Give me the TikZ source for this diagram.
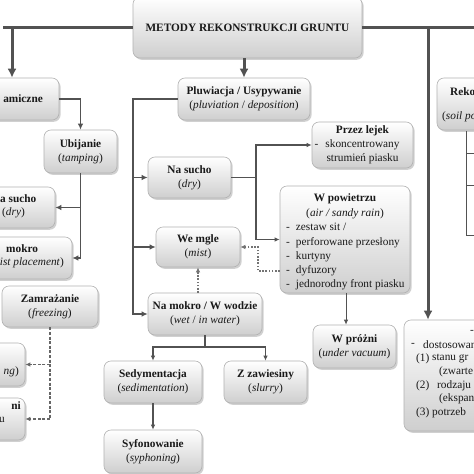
\documentclass[tikz,border=0pt]{standalone}
\usepackage{fontspec}
\setmainfont{Liberation Serif}
\newfontfamily\lsrfam{Liberation Serif}
\usetikzlibrary{shadows,arrows.meta}
\newcommand\fsz{\lsrfam\fontsize{11.3}{14.2}\selectfont}
\begin{document}
\begin{tikzpicture}[x=1pt,y=-1pt,
  box/.style={draw=black!30, line width=0.6pt, rounded corners=7pt,
    top color=white, bottom color=black!19,
    drop shadow={shadow xshift=1.6pt, shadow yshift=-1.8pt, opacity=0.3, fill=black!60},
    inner sep=2pt, align=center, font=\fsz, text=black!90},
  txt/.style={inner sep=0pt, font=\fsz, text=black!90},
  thickc/.style={line width=3pt, draw=black!68},
  midc/.style={line width=1.9pt, draw=black!68},
  thinc/.style={line width=1.3pt, draw=black!68},
  hairc/.style={line width=0.9pt, draw=black!68},
  dotc/.style={line width=1.6pt, draw=black!55, dash pattern=on 1.6pt off 1.6pt},
  dashc/.style={line width=1.4pt, draw=black!60, dash pattern=on 3pt off 1.6pt},
  tipL/.style={-{Latex[length=9pt,width=9pt]}},
  tipM/.style={-{Latex[length=6pt,width=5.5pt]}},
  tipS/.style={-{Latex[length=5pt,width=4.5pt]}}
]
\useasboundingbox (0,0) rectangle (474,474);
\clip (0,0) rectangle (474,474);
\fill[white] (0,0) rectangle (474,474);

% ---------- nodes ----------
\node[box, minimum width=229, minimum height=61] (T) at (247.5,27.5) {\textbf{METODY REKONSTRUKCJI GRUNTU}};

\node[box, minimum width=119, minimum height=42] (D) at (-0.5,99) {};
\node[txt, anchor=east] (Dt) at (43,99) {\textbf{amiczne}};

\node[box, minimum width=73, minimum height=43] (U) at (80.5,151.5) {\textbf{Ubijanie}\\(\textit{tamping})};

\node[box, minimum width=85, minimum height=41] (AS) at (12.5,207.5) {};
\node[txt, anchor=west] (ASa) at (0,198.5) {\textbf{a sucho}};
\node[txt] (ASb) at (13.5,212.5) {(\textit{dry})};

\node[box, minimum width=102, minimum height=42] (AM) at (21,258) {};
\node[txt, anchor=west] (AMa) at (6,248.5) {\textbf{mokro}};
\node[txt, anchor=east] (AMb) at (64,262.5) {\textit{ist placement})};

\node[box, minimum width=96, minimum height=41] (Z) at (50,306.5) {\textbf{Zamrażanie}\\(\textit{freezing})};

\node[box, minimum width=65, minimum height=43] (L1) at (-7.5,364.5) {};
\node[txt, anchor=east] (L1t) at (19,372) {\textit{ng})};

\node[box, minimum width=65, minimum height=42] (L2) at (-7.5,419) {};
\node[txt, anchor=east] (L2a) at (21,406) {\textbf{ni}};
\node[txt, anchor=east] (L2b) at (5,419.5) {u};

\node[box, minimum width=132, minimum height=42] (P) at (244,99) {\textbf{Pluwiacja / Usypywanie}\\(\textit{pluviation} / \textit{deposition})};

\node[box, minimum width=83, minimum height=41] (NS) at (189.5,177.5) {\textbf{Na sucho}\\(\textit{dry})};

\node[box, minimum width=101, minimum height=46] (PL) at (362.5,145) {\textbf{Przez lejek}\\\llap{-\hspace{7pt}}skoncentrowany\\strumień piasku};

\node[box, minimum width=130, minimum height=107] (WP) at (345,239.5) {};
\node[txt] (WPa) at (345,199) {\textbf{W powietrzu}};
\node[txt] (WPb) at (345,213.5) {(\textit{air / sandy rain})};
\node[txt, anchor=west] (WPc) at (286,256.5) {\begin{tabular}{@{}l@{\hspace{6pt}}l@{}}
-&zestaw sit /\\
-&perforowane przesłony\\
-&kurtyny\\
-&dyfuzory\\
-&jednorodny front piasku
\end{tabular}};

\node[box, minimum width=84, minimum height=40] (WM) at (198,247) {\textbf{We mgle}\\(\textit{mist})};

\node[box, minimum width=114, minimum height=42] (NM) at (205,314) {\textbf{Na mokro / W wodzie}\\(\textit{wet} / \textit{in water})};

\node[box, minimum width=98, minimum height=42] (SE) at (153,382) {\textbf{Sedymentacja}\\(\textit{sedimentation})};
\node[box, minimum width=83, minimum height=42] (ZZ) at (265.5,382) {\textbf{Z zawiesiny}\\(\textit{slurry})};
\node[box, minimum width=98, minimum height=43] (SY) at (153,451.5) {\textbf{Syfonowanie}\\(\textit{syphoning})};

\node[box, minimum width=83, minimum height=43] (WPr) at (354.5,346.5) {\textbf{W próżni}\\(\textit{under vacuum})};

\node[box, minimum width=123, minimum height=52] (RK) at (498.5,104) {};
\node[txt, anchor=west] (RKa) at (450,92) {\textbf{Reko}};
\node[txt, anchor=west] (RKb) at (442,117) {(\textit{soil po}};

\node[box, minimum width=156, minimum height=111] (RB) at (482,375.5) {};
\node[txt, anchor=west] (RB0) at (470,332) {-};
\node[txt, anchor=west] (RB1a) at (411,345) {-};
\node[txt, anchor=west] (RB1b) at (423,345) {dostosowan};
\node[txt, anchor=west] (RB2a) at (416,358.5) {(1)};
\node[txt, anchor=west] (RB2b) at (432,358.5) {stanu gr};
\node[txt, anchor=west] (RB3) at (439,372) {(zwarte};
\node[txt, anchor=west] (RB4a) at (416,385.5) {(2)};
\node[txt, anchor=west] (RB4b) at (437,385.5) {rodzaju};
\node[txt, anchor=west] (RB5) at (439,399) {(ekspan};
\node[txt, anchor=west] (RB6a) at (416,412.5) {(3)};
\node[txt, anchor=west] (RB6b) at (432,412.5) {potrzeb};

% ---------- connectors ----------
\coordinate (le) at (3,27.5);
\coordinate (re) at (480,27.5);
\coordinate (jl) at (12,27.5);
\coordinate (jr) at (428,27.5);
\draw[thickc] (T.west) -- (le);
\draw[thickc] (T.east) -- (re);
\draw[thickc,tipL] (jl) -- (jl |- D.north);
\draw[thickc,tipL] (jr) -- (jr |- RB.north);
\draw[thickc,tipL] (T.south -| P.north) -- (P.north);

\draw[midc,tipM] (D.east) -| (U.north);
\draw[midc,tipM] (U.south) -- (U.south |- AM.east) -- (AM.east);
\draw[midc,tipM] (U.south |- AS.east) -- (AS.east);

\coordinate (jp) at (133,99);
\draw[midc,tipM] (P.west) -- (jp) -- (jp |- NM.west) -- (NM.west);
\draw[midc,tipM] (jp |- NS.west) -- (NS.west);
\draw[midc,tipM] (jp |- WM.west) -- (WM.west);

\coordinate (jn) at (256,177.5);
\draw[thinc] (NS.east) -- (jn);
\draw[thinc,tipS] (jn) |- (PL.west);
\draw[thinc,tipS] (jn) |- (WP.west);

\coordinate (jw) at (346,0);
\draw[hairc,tipS] (jw |- WP.south) -- (jw |- WPr.north);

\coordinate (jd) at (258,271);
\draw[dotc,tipS] (WP.west |- jd) -- (jd) |- (WM.east);
\draw[dotc,tipS] (WM.south |- NM.north) -- (WM.south);

\coordinate (jm) at (205,347);
\draw[thinc] (NM.south) -- (jm);
\draw[thinc,tipS] (jm) -| (SE.north);
\draw[thinc,tipS] (jm) -| (ZZ.north);
\draw[thinc,tipS] (SE.south) -- (SY.north);

\draw[dashc,tipS] (Z.south) -- (Z.south |- L2.east) -- (L2.east);
\draw[dashc,tipS] (Z.south |- L1.east) -- (L1.east);

% table under RK
\draw[hairc] (466,131) -- (466,235) -- (480,235);
\draw[hairc] (466,153) -- (480,153);
\draw[hairc] (466,185) -- (480,185);
\end{tikzpicture}
\end{document}
